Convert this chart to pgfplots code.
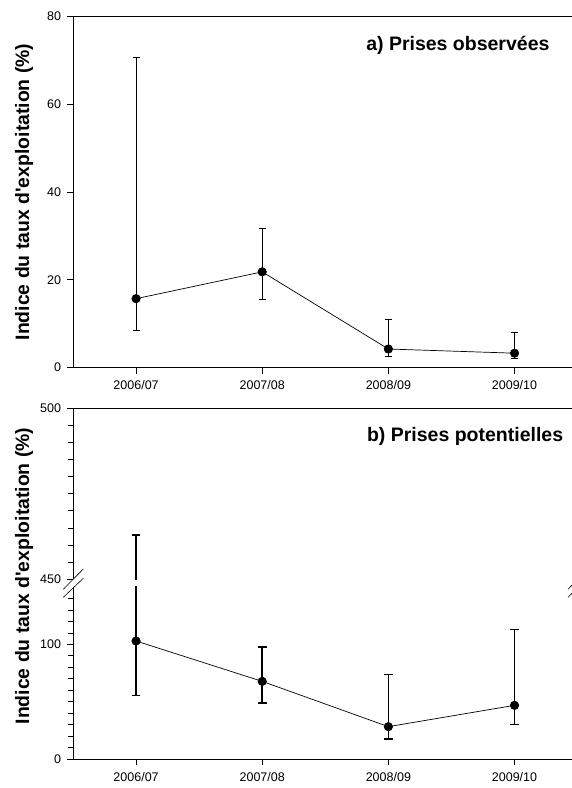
\documentclass[border=0pt]{standalone}
\usepackage{fontspec}
\setmainfont{Liberation Sans}
\usepackage{pgfplots}
\pgfplotsset{compat=1.18}
\begin{document}
\begin{tikzpicture}
\useasboundingbox (0,0) rectangle (572bp,788bp);
\pgfplotsset{
 common/.style={
  anchor=south west, scale only axis, width=504.6bp,
  xmin=-0.5, xmax=3.5,
  tick align=outside, major tick length=6bp, minor tick length=4.5bp,
  tick style={black, line width=0.6bp},
  axis line style={black, line width=0.8bp},
  tick label style={font=\fontsize{12.5bp}{14bp}\selectfont},
  xticklabel style={yshift=-3.5bp},
  yticklabel style={xshift=-2.5bp},
  /pgf/number format/assume math mode=true,
  xtick={0,1,2,3}, xticklabels={2006/07,2007/08,2008/09,2009/10},
 },
 thin err/.style={black, line width=0.7bp, mark=*, mark size=4.2bp, mark options={solid, fill=black},
  error bars/.cd, y dir=both, y explicit,
  error bar style={line width=0.7bp, black},
  error mark options={rotate=90, mark size=3.5bp, line width=0.7bp, black}},
 thick err/.style={black, line width=0.7bp, mark=*, mark size=4.2bp, mark options={solid, fill=black},
  error bars/.cd, y dir=both, y explicit,
  error bar style={line width=1.7bp, black},
  error mark options={rotate=90, mark size=4.3bp, line width=1.7bp, black}},
}
% ---------- panel a ----------
\begin{axis}[common, at={(73bp,420.3bp)}, height=351.7bp,
  ymin=0, ymax=80, ytick={0,20,40,60,80},
  axis x line*=box, axis y line*=left, xtick pos=left]
\addplot[thin err] coordinates {
 (0,15.7) += (0,54.9) -= (0,7.2)
 (1,21.8) += (0,9.8) -= (0,6.2)
 (2,4.25) += (0,6.65) -= (0,1.65)
 (3,3.3) += (0,4.7) -= (0,1.1)
};
\end{axis}
% ---------- panel b, lower segment ----------
\begin{axis}[common, at={(73bp,29bp)}, height=172bp,
  ymin=0, ymax=150, ytick={0,100}, minor ytick={10,20,...,140},
  axis x line*=bottom, axis y line*=left]
\addplot[thick err] coordinates {
 (0,102.9) += (0,360) -= (0,47.4)
 (1,67.7) += (0,30.2) -= (0,19.1)
 (2,28.2) += (0,45.6) -= (0,11.0)
 (3,46.8) += (0,66.2) -= (0,16.6)
};
\end{axis}
% ---------- panel b, upper segment ----------
\begin{axis}[common, at={(73bp,208.7bp)}, height=171.3bp,
  ymin=450, ymax=500, ytick={450,500}, minor ytick={455,460,...,495},
  hide x axis, axis y line*=left]
\addplot[draw=none, mark=none,
  error bars/.cd, y dir=plus, y explicit,
  error bar style={draw=black, line width=1.7bp},
  error mark options={rotate=90, mark size=4.3bp, line width=1.7bp, draw=black}]
 coordinates {(0,102.9) += (0,360) -= (0,0)};
\draw[black, line width=0.8bp] (rel axis cs:0,1) -- (rel axis cs:1,1);
\end{axis}
% break marks
\draw[line width=0.6bp] (63.3bp,198.7bp) -- (83.3bp,219bp);
\draw[line width=0.6bp] (63.3bp,190.7bp) -- (83.3bp,209.7bp);
\draw[line width=0.6bp] (567.9bp,198.7bp) -- (587.9bp,219bp);
\draw[line width=0.6bp] (567.9bp,190.7bp) -- (587.9bp,209.7bp);
% titles and labels
\node[anchor=base east, font=\bfseries\fontsize{19.5bp}{22bp}\selectfont] at (553bp,737.3bp) {a) Prises observées};
\node[anchor=base east, font=\bfseries\fontsize{19.5bp}{22bp}\selectfont] at (566.7bp,346.3bp) {b) Prises potentielles};
\node[rotate=90, font=\bfseries\fontsize{19.4bp}{22bp}\selectfont] at (24bp,596bp) {Indice du taux d\textquotesingle exploitation (\%)};
\node[rotate=90, font=\bfseries\fontsize{19.4bp}{22bp}\selectfont] at (24bp,212bp) {Indice du taux d\textquotesingle exploitation (\%)};
\end{tikzpicture}
\end{document}
